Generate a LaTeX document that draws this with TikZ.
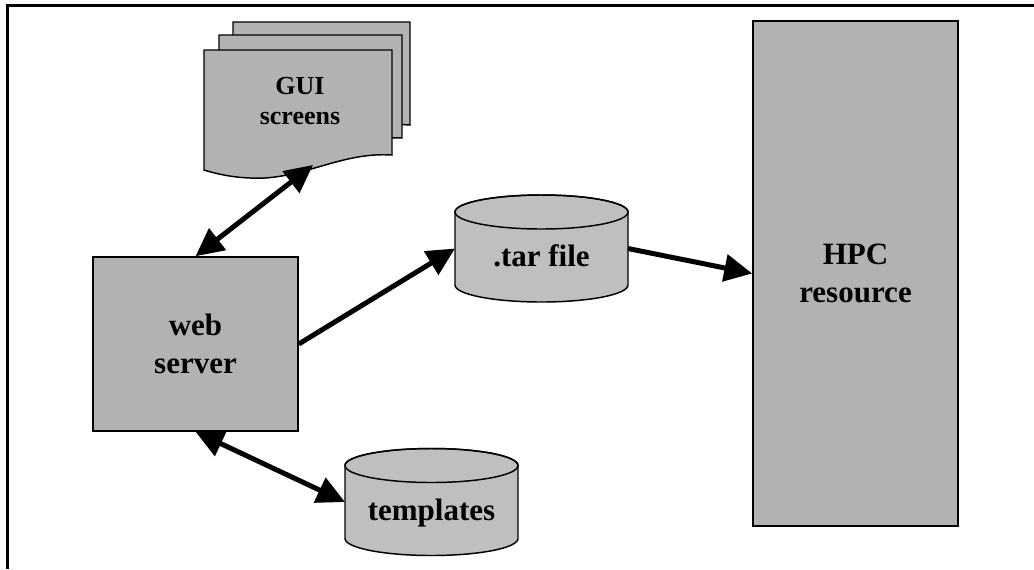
\documentclass[tikz,border=0pt]{standalone}
\usepackage{fontspec}
\setmainfont{Liberation Serif}
\usepackage{tikz}
\usetikzlibrary{arrows.meta,backgrounds}

\definecolor{boxgray}{gray}{0.70}
\definecolor{diskgray}{gray}{0.75}

\begin{document}
\begin{tikzpicture}[x=0.75pt, y=-0.75pt,
  box/.style={draw, line width=1.1pt, fill=boxgray, align=center, inner sep=0pt,
    font=\bfseries\fontsize{23.25}{28.5}\selectfont},
  disk/.style={inner sep=0pt, outer sep=0pt, minimum width=129.75pt, minimum height=80.25pt,
    text height=27pt, text depth=0pt, font=\bfseries\fontsize{23.25}{28.5}\selectfont},
  doc/.style={draw, line width=1.1pt, fill=boxgray},
  link/.style={line width=3.75pt, -{Triangle[length=21pt, width=20pt]}},
  dlink/.style={line width=3.75pt, {Triangle[length=21pt, width=20pt]}-{Triangle[length=21pt, width=20pt]}}]
\useasboundingbox (0,0) rectangle (1034,569);

% frame
\draw[line width=2.25pt] (7,569) -- (7,5.5) -- (1034,5.5);

% GUI screens (three stacked pages)
\draw[doc] (233,22) -- (410,22) -- (410,125) .. controls (370,122) and (345,130) .. (320,140)
  .. controls (290,152) and (260,150) .. (233,142) -- cycle;
\draw[doc] (219,35) -- (402,35) -- (402,138) .. controls (360,136) and (330,150) .. (300,158)
  .. controls (270,165) and (245,162) .. (219,155) -- cycle;
\draw[doc] (204,50) -- (392,50) -- (392,155) .. controls (345,152) and (310,175) .. (265,178)
  .. controls (240,179) and (220,175) .. (204,170) -- cycle;
\node[align=center, font=\bfseries\fontsize{19.5}{22.5}\selectfont] (gui) at (300,101) {GUI\\screens};
\coordinate (guibot) at (313,165);

\node[box, minimum width=153.75pt, minimum height=130.5pt] (web) at (195.5,344) {web\\server};
\node[box, minimum width=153.75pt, minimum height=378.75pt] (hpc) at (855.5,273.5) {HPC\\resource};
\node[disk] (tar) at (541.5,248.5) {.tar file};
\node[disk] (tmpl) at (431.5,502) {templates};

% cylinder bodies behind the disk labels
\begin{scope}[on background layer]
\foreach \d in {tar,tmpl} {
  \filldraw[fill=diskgray, line width=1.1pt] ([yshift=12.75pt]\d.south west)
    arc[start angle=180, end angle=360, x radius=64.875pt, y radius=12.75pt]
    -- ([yshift=-12.75pt]\d.north east)
    arc[start angle=0, end angle=180, x radius=64.875pt, y radius=12.75pt] -- cycle;
  \draw[line width=1.1pt] ([yshift=-12.75pt]\d.north) ellipse[x radius=64.875pt, y radius=12.75pt];
}
\end{scope}

\draw[dlink] (web.north) -- (guibot);
\draw[link] (web.east) -- (tar.west);
\draw[link] (tar.east) -- (hpc.west);
\draw[dlink] (web.south) -- (tmpl.west);

\end{tikzpicture}
\end{document}
